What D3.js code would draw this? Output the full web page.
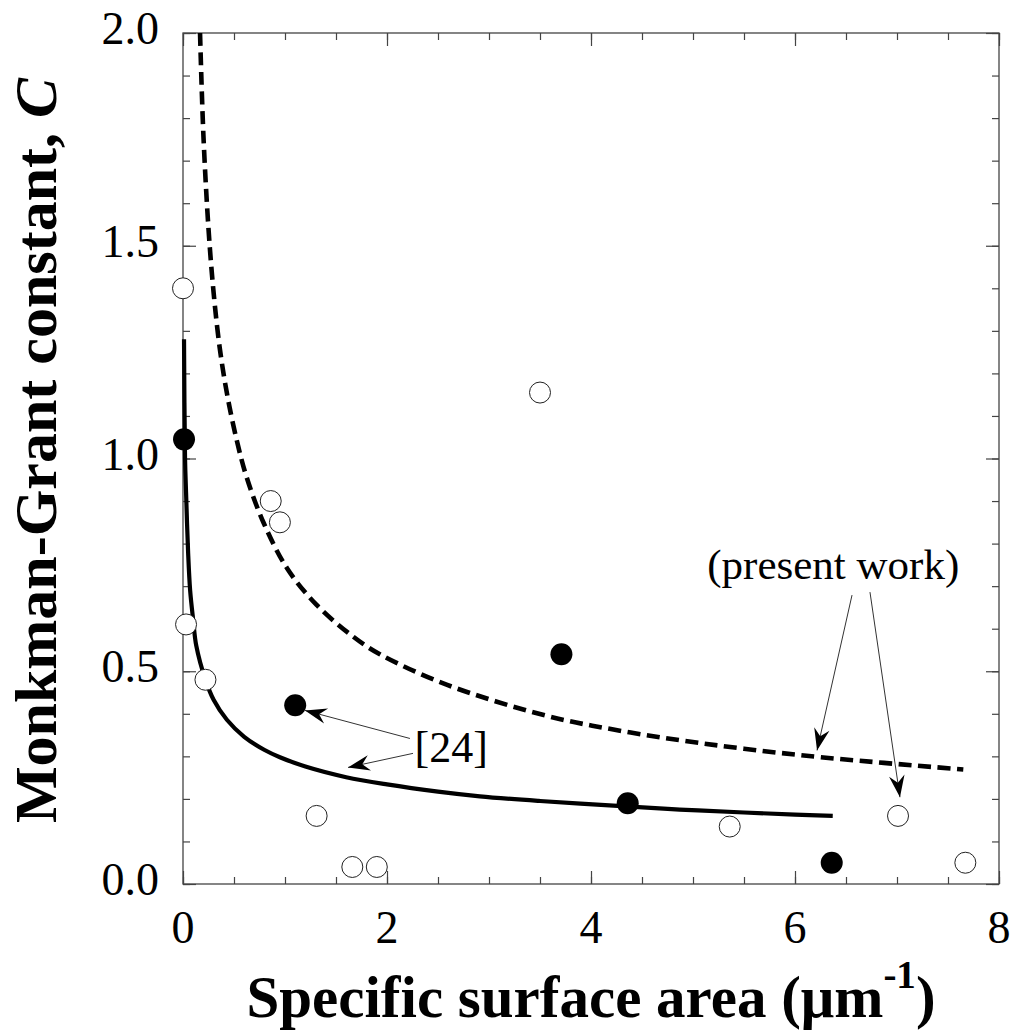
<!DOCTYPE html>
<html>
<head>
<meta charset="utf-8">
<script src="https://cdn.jsdelivr.net/npm/d3@7"></script>
<style>
  body { margin: 0; background: #fff; }
  text { font-family: "Liberation Serif", "Times New Roman", serif; fill: #000; }
</style>
</head>
<body>
<div id="chart"></div>
<script>
// open circles
const openX = [0.0, 0.03, 0.22, 0.86, 0.95, 1.31, 1.66, 1.90, 3.50, 5.36, 7.01, 7.67];
const openY = [1.40, 0.61, 0.48, 0.90, 0.85, 0.16, 0.04, 0.04, 1.155, 0.135, 0.16, 0.05];

// filled circles
const filledX = [0.01, 1.10, 3.71, 4.36, 6.36];
const filledY = [1.045, 0.42, 0.54, 0.19, 0.05];

// solid curve ([24])
const solidX = [0.01, 0.02, 0.03, 0.05, 0.07, 0.10, 0.13, 0.22, 0.30, 0.43, 0.60, 0.80, 0.95, 1.20, 1.60, 2.00, 2.50, 2.91, 3.50, 4.22, 4.87, 5.50, 6.00, 6.37];
const solidY = [1.28, 1.00, 0.92, 0.78, 0.69, 0.62, 0.56, 0.48, 0.433, 0.386, 0.346, 0.315, 0.298, 0.276, 0.251, 0.234, 0.217, 0.206, 0.195, 0.184, 0.175, 0.168, 0.163, 0.160];

// dashed curve (present work)
const dashX = [0.167, 0.20, 0.25, 0.30, 0.36, 0.43, 0.52, 0.62, 0.79, 1.02, 1.31, 1.67, 1.93, 2.59, 3.57, 4.22, 4.87, 5.50, 6.25, 7.65];
const dashY = [2.0, 1.76, 1.54, 1.39, 1.26, 1.154, 1.05, 0.959, 0.849, 0.742, 0.656, 0.581, 0.54, 0.468, 0.395, 0.363, 0.338, 0.318, 0.298, 0.269];

const xTicks = [0, 2, 4, 6, 8];
const xTickLabels = ["0", "2", "4", "6", "8"];
const yTicks = [0, 0.5, 1.0, 1.5, 2.0];
const yTickLabels = ["0.0", "0.5", "1.0", "1.5", "2.0"];

const width = 1016, height = 1034;
const margin = { left: 183, right: 17, top: 33, bottom: 150 };

const x = d3.scaleLinear().domain([0, 8]).range([margin.left, width - margin.right]);
const y = d3.scaleLinear().domain([0, 2]).range([height - margin.bottom, margin.top]);

const svg = d3.select("#chart").append("svg")
  .attr("width", width).attr("height", height);

const defs = svg.append("defs");
defs.append("clipPath").attr("id", "plotclip")
  .append("rect")
  .attr("x", x(0)).attr("y", y(2))
  .attr("width", x(8) - x(0)).attr("height", y(0) - y(2));

defs.append("marker")
  .attr("id", "arrow")
  .attr("markerUnits", "userSpaceOnUse")
  .attr("markerWidth", 26).attr("markerHeight", 26)
  .attr("viewBox", "-23 -11 25 22")
  .attr("refX", 0).attr("refY", 0)
  .attr("orient", "auto")
  .append("path")
  .attr("d", "M0,0 L-21,-7.5 L-14,0 L-21,7.5 Z")
  .attr("fill", "#000");

// frame ticks (inward, all four sides)
const minorX = d3.range(0, 8.01, 0.5);
const minorY = d3.range(0, 2.001, 0.1);
const tickCol = "#444";

function styleAxis(g) {
  g.select(".domain").remove();
  g.selectAll(".tick line").attr("stroke", tickCol).attr("stroke-width", 1.2);
  g.selectAll(".tick text").remove();
}

svg.append("g").attr("transform", `translate(0,${y(0)})`)
  .call(d3.axisBottom(x).tickValues(minorX).tickSize(-7)).call(styleAxis);
svg.append("g").attr("transform", `translate(0,${y(0)})`)
  .call(d3.axisBottom(x).tickValues(xTicks).tickSize(-13)).call(styleAxis);
svg.append("g").attr("transform", `translate(0,${y(2)})`)
  .call(d3.axisTop(x).tickValues(minorX).tickSize(-7)).call(styleAxis);
svg.append("g").attr("transform", `translate(0,${y(2)})`)
  .call(d3.axisTop(x).tickValues(xTicks).tickSize(-13)).call(styleAxis);
svg.append("g").attr("transform", `translate(${x(0)},0)`)
  .call(d3.axisLeft(y).tickValues(minorY).tickSize(-7)).call(styleAxis);
svg.append("g").attr("transform", `translate(${x(0)},0)`)
  .call(d3.axisLeft(y).tickValues(yTicks).tickSize(-13)).call(styleAxis);
svg.append("g").attr("transform", `translate(${x(8)},0)`)
  .call(d3.axisRight(y).tickValues(minorY).tickSize(-7)).call(styleAxis);
svg.append("g").attr("transform", `translate(${x(8)},0)`)
  .call(d3.axisRight(y).tickValues(yTicks).tickSize(-13)).call(styleAxis);

svg.append("rect")
  .attr("x", x(0)).attr("y", y(2))
  .attr("width", x(8) - x(0)).attr("height", y(0) - y(2))
  .attr("fill", "none").attr("stroke", tickCol).attr("stroke-width", 1.3);

// tick labels
svg.selectAll(".xlab").data(xTicks).enter().append("text")
  .attr("x", d => x(d)).attr("y", y(0) + 59)
  .attr("text-anchor", "middle").attr("font-size", 46)
  .text((d, i) => xTickLabels[i]);

svg.selectAll(".ylab").data(yTicks).enter().append("text")
  .attr("x", 159).attr("y", d => y(d) + 11)
  .attr("text-anchor", "end").attr("font-size", 46)
  .text((d, i) => yTickLabels[i]);

// curves
const line = d3.line().x(d => x(d[0])).y(d => y(d[1])).curve(d3.curveCatmullRom.alpha(0.5));

svg.append("path")
  .datum(solidX.map((v, i) => [v, solidY[i]]))
  .attr("d", line)
  .attr("fill", "none").attr("stroke", "#000").attr("stroke-width", 4.2);

svg.append("path")
  .datum(dashX.map((v, i) => [v, dashY[i]]))
  .attr("d", line)
  .attr("clip-path", "url(#plotclip)")
  .attr("fill", "none").attr("stroke", "#000").attr("stroke-width", 4.6)
  .attr("stroke-dasharray", "13,6.5");

// points
svg.selectAll(".open").data(openX.map((v, i) => [v, openY[i]])).enter()
  .append("circle")
  .attr("cx", d => x(d[0])).attr("cy", d => y(d[1])).attr("r", 10.5)
  .attr("fill", "#fff").attr("stroke", "#222").attr("stroke-width", 1);

svg.selectAll(".filled").data(filledX.map((v, i) => [v, filledY[i]])).enter()
  .append("circle")
  .attr("cx", d => x(d[0])).attr("cy", d => y(d[1])).attr("r", 11)
  .attr("fill", "#000");

// annotations (data units)
const arrows = [
  [2.225, 0.342, 1.196, 0.408],
  [2.255, 0.307, 1.618, 0.274],
  [6.559, 0.679, 6.216, 0.314],
  [6.735, 0.686, 7.029, 0.204]
];
svg.selectAll(".arr").data(arrows).enter().append("line")
  .attr("x1", d => x(d[0])).attr("y1", d => y(d[1]))
  .attr("x2", d => x(d[2])).attr("y2", d => y(d[3]))
  .attr("stroke", "#333").attr("stroke-width", 1)
  .attr("marker-end", "url(#arrow)");

svg.append("text")
  .attr("x", x(2.27)).attr("y", y(0.286))
  .attr("font-size", 44).text("[24]");

svg.append("text")
  .attr("x", x(5.14)).attr("y", y(0.716))
  .attr("font-size", 43).text("(present work)");

// axis titles
const xt = svg.append("text")
  .attr("x", (x(0) + x(8)) / 2).attr("y", 1017)
  .attr("text-anchor", "middle").attr("font-size", 59).attr("font-weight", "bold");
xt.append("tspan").text("Specific surface area (\u03bcm");
xt.append("tspan").attr("font-size", 39).attr("dy", -29).text("-1");
xt.append("tspan").attr("dy", 29).text(")");

const yt = svg.append("text")
  .attr("transform", `translate(56,${(y(0) + y(2)) / 2 - 8}) rotate(-90)`)
  .attr("text-anchor", "middle").attr("font-size", 60).attr("font-weight", "bold");
yt.append("tspan").text("Monkman-Grant constant, ");
yt.append("tspan").attr("font-style", "italic").text("C");
</script>
</body>
</html>
